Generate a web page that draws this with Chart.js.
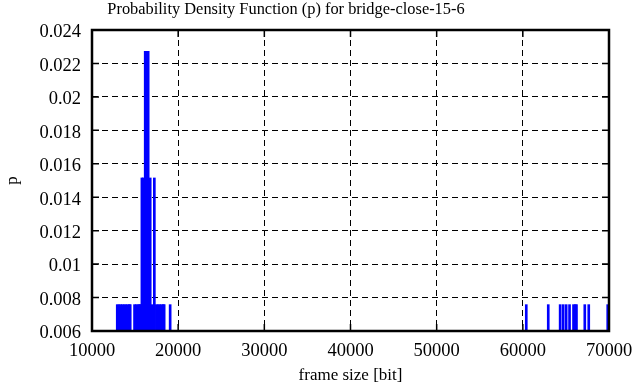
<!DOCTYPE html>
<html>
<head>
<meta charset="utf-8">
<script src="https://cdn.jsdelivr.net/npm/chart.js@4"></script>
<style>
  html, body { margin: 0; padding: 0; background: #fff; }
  #wrap { width: 636px; height: 387px; }
</style>
</head>
<body>
<div id="wrap"><canvas id="chart"></canvas></div>
<script>
// frame sizes [bit] and their probability (1, 2 or 3 frames out of 132)
const frameSizes = [
  12930, 13130, 13330, 13530, 13730, 13930, 14130, 14330, 14435,
  14935, 15135, 15335, 15535, 15560,
  15790, 15945,
  16175, 16375, 16520,
  16755, 16990, 17235,
  17470, 17670, 17870, 18070, 18270, 18375,
  19070,
  60400, 62950, 64330, 64680, 65030, 65420, 65880, 66080, 66225, 67190, 67650, 69850
];
const probs = [
  0.007576, 0.007576, 0.007576, 0.007576, 0.007576, 0.007576, 0.007576, 0.007576, 0.007576,
  0.007576, 0.007576, 0.007576, 0.007576, 0.007576,
  0.015152, 0.015152,
  0.022727, 0.022727, 0.022727,
  0.015152, 0.007576, 0.015152,
  0.007576, 0.007576, 0.007576, 0.007576, 0.007576, 0.007576,
  0.007576,
  0.007576, 0.007576, 0.007576, 0.007576, 0.007576, 0.007576, 0.007576, 0.007576, 0.007576, 0.007576, 0.007576, 0.007576
];

const xTicks = [10000, 20000, 30000, 40000, 50000, 60000, 70000];
const yTicks = [0.006, 0.008, 0.010, 0.012, 0.014, 0.016, 0.018, 0.020, 0.022, 0.024];
const yTickLabels = ['0.006', '0.008', '0.01', '0.012', '0.014', '0.016', '0.018', '0.02', '0.022', '0.024'];
const titleText = 'Probability Density Function (p) for bridge-close-15-6';

const FONT = 'Liberation Serif, Times New Roman, serif';

// gnuplot puts the title a bit left of the centre, so it is drawn here by hand
const titlePlugin = {
  id: 'gpTitle',
  afterDraw(chart) {
    const ctx = chart.ctx;
    ctx.save();
    ctx.fillStyle = '#000';
    ctx.font = '16.4px ' + FONT;
    ctx.textAlign = 'center';
    ctx.textBaseline = 'alphabetic';
    ctx.fillText(titleText, 286, 13.5);
    ctx.restore();
  }
};

// gnuplot style border with inward ticks on all four sides
const frame = {
  id: 'frame',
  afterDraw(chart) {
    const {ctx, chartArea: a, scales: {x, y}} = chart;
    ctx.save();
    ctx.strokeStyle = '#000';
    ctx.lineWidth = 1.5;
    ctx.beginPath();
    x.ticks.forEach(t => {
      const px = x.getPixelForValue(t.value);
      ctx.moveTo(px, a.bottom); ctx.lineTo(px, a.bottom - 7);
      ctx.moveTo(px, a.top); ctx.lineTo(px, a.top + 7);
    });
    y.ticks.forEach(t => {
      const py = y.getPixelForValue(t.value);
      ctx.moveTo(a.left, py); ctx.lineTo(a.left + 7, py);
      ctx.moveTo(a.right, py); ctx.lineTo(a.right - 7, py);
    });
    ctx.stroke();
    ctx.lineWidth = 2.5;
    ctx.strokeRect(a.left, a.top, a.right - a.left, a.bottom - a.top);
    ctx.restore();
  }
};

new Chart(document.getElementById('chart'), {
  type: 'bar',
  data: {
    datasets: [{
      data: frameSizes.map((f, i) => ({x: f, y: probs[i]})),
      backgroundColor: '#0000ff',
      borderWidth: 0,
      barThickness: 2
    }]
  },
  options: {
    responsive: true,
    maintainAspectRatio: false,
    animation: false,
    layout: { padding: { left: 0, right: 27, top: 30, bottom: 0 } },
    plugins: {
      legend: { display: false },
      tooltip: { enabled: false },
      title: { display: false }
    },
    scales: {
      x: {
        type: 'linear',
        min: 10000,
        max: 70000,
        offset: false,
        afterBuildTicks: s => { s.ticks = xTicks.map(v => ({value: v})); },
        afterFit: s => { s.height = 56; s.paddingLeft = 0; s.paddingRight = 0; },
        ticks: {
          color: '#000',
          font: { family: FONT, size: 18.5 },
          padding: 9,
          maxRotation: 0,
          autoSkip: false,
          callback: v => String(v)
        },
        grid: { color: '#000', lineWidth: 1, drawTicks: false, offset: false },
        border: { display: false, dash: [6, 4] },
        title: {
          display: true,
          text: 'frame size [bit]',
          color: '#000',
          font: { family: FONT, size: 17 },
          padding: { top: 0, bottom: 1 }
        }
      },
      y: {
        min: 0.006,
        max: 0.024,
        afterBuildTicks: s => { s.ticks = yTicks.map(v => ({value: v})); },
        afterFit: s => { s.width = 92; s.paddingTop = 0; s.paddingBottom = 0; },
        ticks: {
          color: '#000',
          font: { family: FONT, size: 18.5 },
          padding: 11,
          labelOffset: 2.5,
          autoSkip: false,
          callback: (v, i) => yTickLabels[i]
        },
        grid: { color: '#000', lineWidth: 1, drawTicks: false },
        border: { display: false, dash: [6, 4] },
        title: {
          display: true,
          text: 'p',
          color: '#000',
          font: { family: FONT, size: 17 },
          padding: { top: 2, bottom: 0 }
        }
      }
    }
  },
  plugins: [frame, titlePlugin]
});
</script>
</body>
</html>
